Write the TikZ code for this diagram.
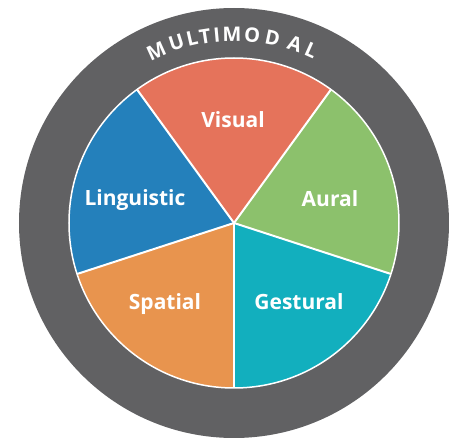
\documentclass[tikz,border=0pt]{standalone}
\usepackage{fontspec}
\setmainfont{Open Sans}
\usepackage{tikz}

\definecolor{ringgrey}{HTML}{616163}
\definecolor{visualred}{HTML}{E5735B}
\definecolor{auralgreen}{HTML}{8CC16C}
\definecolor{gesturalteal}{HTML}{12AFBE}
\definecolor{spatialorange}{HTML}{E8944E}
\definecolor{linguisticblue}{HTML}{2480BB}

\begin{document}
\begin{tikzpicture}[x=1pt,y=1pt]
	\tikzstyle{slicetext} = [text=white,font=\bfseries\fontsize{21}{21}\selectfont,anchor=base,inner sep=0pt]
	\tikzstyle{ringtext} = [text=white,font=\bfseries\fontsize{20}{20}\selectfont,inner sep=0pt]
	\tikzstyle{cut} = [draw=white,line width=2pt]

	\useasboundingbox (-234,-224) rectangle (222,223);
	\coordinate (c) at (0,0);

	\fill[ringgrey] (c) circle (215);

	\fill[visualred] (c) -- (54:165) arc[start angle=54,end angle=126,radius=165] -- cycle;
	\fill[linguisticblue] (c) -- (126:165) arc[start angle=126,end angle=198,radius=165] -- cycle;
	\fill[spatialorange] (c) -- (198:165) arc[start angle=198,end angle=270,radius=165] -- cycle;
	\fill[gesturalteal] (c) -- (270:165) arc[start angle=270,end angle=342,radius=165] -- cycle;
	\fill[auralgreen] (c) -- (342:165) arc[start angle=-18,end angle=54,radius=165] -- cycle;

	\draw[white,line width=1.5pt] (c) circle (165);
	\foreach \a in {54,126,198,270,342}
		\draw[cut] (c) -- (\a:165);

	\node[slicetext] (visual) at (-1,95) {Visual};
	\node[slicetext] (linguistic) at (-99,17) {Linguistic};
	\node[slicetext] (aural) at (96,16) {Aural};
	\node[slicetext] (spatial) at (-69,-87) {Spatial};
	\node[slicetext] (gestural) at (65,-87) {Gestural};

	\foreach \ch/\a [count=\i] in {M/114.3,U/107.7,L/102.8,T/98.8,I/95.2,M/90.6,O/84.5,D/78.2,A/71.2,L/65.9}
		\node[ringtext,rotate=\a-90] (ring\i) at (\a:189) {\ch};
\end{tikzpicture}
\end{document}
